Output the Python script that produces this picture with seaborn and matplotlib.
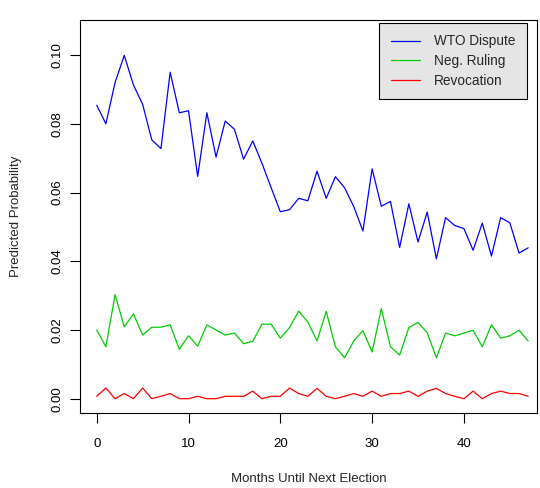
import pandas as pd
import matplotlib
matplotlib.use("Agg")
import matplotlib.pyplot as plt
import seaborn as sns
from matplotlib.lines import Line2D

sns.set_style("white")
plt.rcParams["font.family"] = ["Liberation Sans", "DejaVu Sans"]

# data
months = list(range(48))
wto_dispute = [0.0854, 0.0800, 0.0920, 0.0999, 0.0913, 0.0857, 0.0753, 0.0728,
               0.0950, 0.0832, 0.0838, 0.0647, 0.0832, 0.0703, 0.0808, 0.0784,
               0.0697, 0.0750, 0.0685, 0.0614, 0.0544, 0.0550, 0.0583, 0.0576,
               0.0662, 0.0583, 0.0646, 0.0614, 0.0559, 0.0488, 0.0669, 0.0560,
               0.0574, 0.0440, 0.0567, 0.0456, 0.0543, 0.0407, 0.0527, 0.0504,
               0.0495, 0.0432, 0.0511, 0.0415, 0.0527, 0.0512, 0.0424, 0.0439]
neg_ruling = [0.0200, 0.0151, 0.0303, 0.0209, 0.0247, 0.0185, 0.0208, 0.0208,
              0.0215, 0.0144, 0.0183, 0.0153, 0.0215, 0.0200, 0.0185, 0.0191,
              0.0160, 0.0167, 0.0217, 0.0217, 0.0176, 0.0207, 0.0255, 0.0223,
              0.0168, 0.0254, 0.0151, 0.0119, 0.0168, 0.0198, 0.0136, 0.0262,
              0.0151, 0.0127, 0.0207, 0.0222, 0.0192, 0.0119, 0.0191, 0.0183,
              0.0191, 0.0199, 0.0151, 0.0215, 0.0176, 0.0183, 0.0199, 0.0168]
revocation = [0.0007, 0.0031, 0.0000, 0.0015, 0.0000, 0.0031, 0.0000, 0.0007,
              0.0015, 0.0000, 0.0000, 0.0007, 0.0000, 0.0000, 0.0007, 0.0007,
              0.0007, 0.0022, 0.0000, 0.0007, 0.0007, 0.0031, 0.0015, 0.0007,
              0.0030, 0.0007, 0.0000, 0.0007, 0.0015, 0.0007, 0.0022, 0.0007,
              0.0015, 0.0015, 0.0022, 0.0007, 0.0022, 0.0030, 0.0015, 0.0007,
              0.0000, 0.0022, 0.0000, 0.0015, 0.0022, 0.0015, 0.0015, 0.0007]
series_names = ["WTO Dispute", "Neg. Ruling", "Revocation"]
series_colors = ["#0000FF", "#00CD00", "#FF0000"]

df = pd.DataFrame({
    "month": months * 3,
    "prob": wto_dispute + neg_ruling + revocation,
    "series": [n for n in series_names for _ in months],
})

fs = 9.5

fig = plt.figure(figsize=(5.4, 4.88), dpi=100)
ax = fig.add_axes([80 / 540, 1 - 413.3 / 488, 457 / 540, 393.3 / 488])

sns.lineplot(data=df, x="month", y="prob", hue="series", palette=series_colors,
             linewidth=0.9, legend=False, ax=ax)

ax.set_xlim(-1.82, 47.96)
ax.set_ylim(-0.00425, 0.1102)
ax.set_xticks([0, 10, 20, 30, 40])
ax.set_yticks([0.00, 0.02, 0.04, 0.06, 0.08, 0.10])
ax.set_yticklabels(["0.00", "0.02", "0.04", "0.06", "0.08", "0.10"],
                   rotation=90, va="center")
ax.tick_params(axis="both", which="major", direction="out", length=7,
               width=0.8, color="black", labelsize=fs, labelcolor="black",
               left=True, bottom=True)
ax.tick_params(axis="x", pad=11)
ax.tick_params(axis="y", pad=5)
for s in ax.spines.values():
    s.set_color("black")
    s.set_linewidth(0.8)

ax.set_xlabel("Months Until Next Election", fontsize=fs, labelpad=16)
ax.set_ylabel("Predicted Probability", fontsize=fs, labelpad=21)

handles = [Line2D([0], [0], color=c, lw=0.9) for c in series_colors]
leg = ax.legend(handles, series_names, loc="upper right",
                bbox_to_anchor=(1 - 10 / 457, 1 - 2.7 / 393.3),
                frameon=True, fancybox=False, edgecolor="black",
                facecolor="#e5e5e5", framealpha=1, fontsize=fs + 0.3,
                handlelength=2.2, handletextpad=1.0, borderpad=0.85,
                labelspacing=0.42, borderaxespad=0)
leg.get_frame().set_linewidth(0.8)

fig.savefig("out.png", dpi=100)
